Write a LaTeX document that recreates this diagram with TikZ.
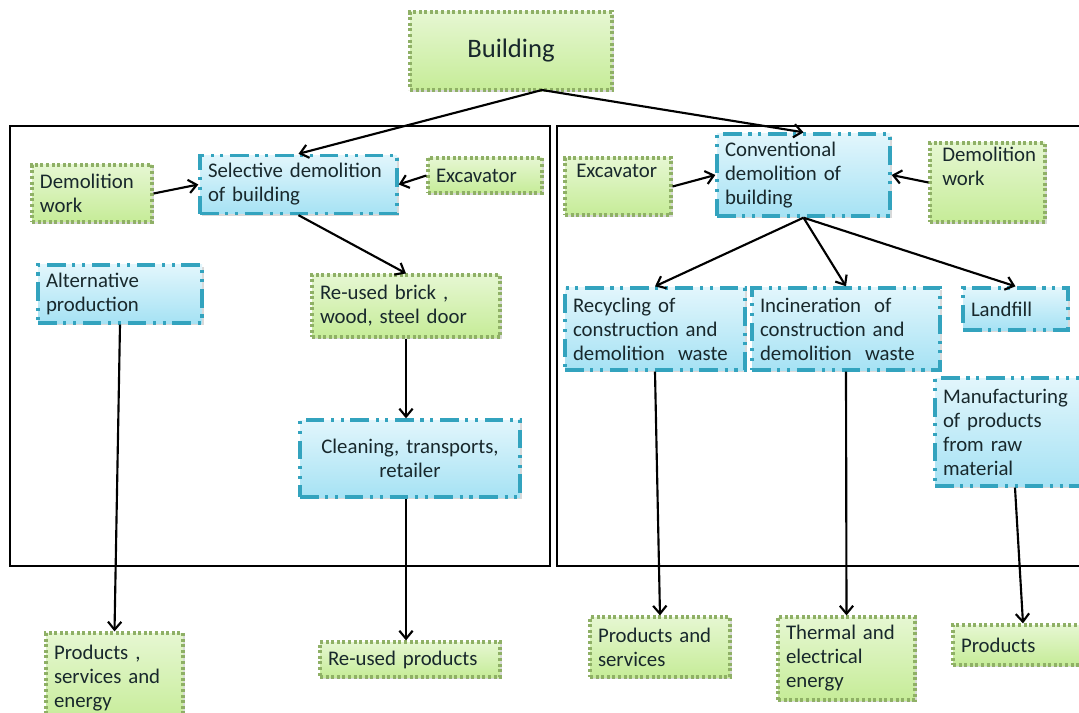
\documentclass[tikz,border=0pt]{standalone}
\usepackage{fontspec}
\setmainfont{Carlito}
\usetikzlibrary{arrows.meta,shadows}

\definecolor{gfillT}{HTML}{E6F7D2}
\definecolor{gfillB}{HTML}{C6EC98}
\definecolor{gline}{HTML}{8FB066}
\definecolor{bfillT}{HTML}{E2F6FC}
\definecolor{bfillB}{HTML}{A6E2F4}
\definecolor{bline}{HTML}{33A3BE}
\definecolor{txt}{HTML}{18282C}

\tikzset{
  x=0.75pt, y=-0.75pt,
  every node/.style={font=\fontsize{15.6}{18}\selectfont, text=txt},
  dims/.style 2 args={minimum width=#1*0.75pt, minimum height=#2*0.75pt,
                      text width=#1*0.75pt-12pt},
  shade/.style={drop shadow={shadow xshift=1.2pt, shadow yshift=-1.5pt,
                opacity=0.25, fill=black!60}},
  gbox/.style={rectangle, draw=gline, line width=2.4pt,
               dash pattern=on 2.2pt off 2pt,
               top color=gfillT, bottom color=gfillB, shade,
               inner sep=6pt, align=left},
  bbox/.style={rectangle, draw=bline, line width=2.5pt,
               dash pattern=on 14pt off 5pt on 2.3pt off 5pt on 2.3pt off 5pt,
               top color=bfillT, bottom color=bfillB, shade,
               inner sep=6pt, align=left},
  frame/.style={draw=black, line width=1.6pt},
  link/.style={draw=black, line width=1.6pt,
               -{Straight Barb[length=6pt, width=10pt, line width=1.6pt]}},
}

\begin{document}
\begin{tikzpicture}
\useasboundingbox (0,0) rectangle (1079,713);
\clip (0,0) rectangle (1079,713);

% the two working areas
\draw[frame] (10,126) rectangle (550,566);
\draw[frame] (557,126) rectangle (1090,566);

% top
\node[gbox, dims={202}{78}, align=center, font=\fontsize{20}{24}\selectfont] (bld) at (511,51) {Building};
\coordinate (split) at (542,90);

% left part: selective demolition
\node[gbox, dims={120}{57}] (dwL) at (92,193.5) {Demolition\\work};
\node[bbox, dims={197}{55}] (sel) at (298.5,184.5) {Selective demolition\\of building};
\node[gbox, dims={114}{35}] (excL) at (485,175.5) {Excavator};
\node[bbox, dims={164}{58}] (alt) at (120,294) {Alternative\\production};
\node[gbox, dims={188}{62}] (reb) at (406,306) {Re-used brick ,\\wood, steel door};
\node[bbox, dims={220}{77}, align=center] (cln) at (410,458.5) {Cleaning, transports,\\retailer};
\node[gbox, dims={137}{90}] (pse) at (114.5,678) {Products ,\\services and\\energy};
\node[gbox, dims={180}{35}] (rep) at (410,659.5) {Re-used products};

% right part: conventional demolition
\node[gbox, dims={106}{57}] (excR) at (618,186.5) {};
\node[anchor=north west, inner sep=0pt] (excRt) at (576,164) {Excavator};
\node[bbox, dims={173}{80}] (con) at (803.5,175) {Conventional\\demolition of\\building};
\node[gbox, dims={115}{79}] (dwR) at (987.5,182.5) {};
\node[anchor=north west, inner sep=0pt, align=left] (dwRt) at (942,147) {Demolition\\work};
\node[bbox, dims={180}{82}] (rec) at (655,329) {Recycling of\\construction and\\demolition\hspace{0.3em} waste};
\node[bbox, dims={188}{82}] (inc) at (846,329) {Incineration\hspace{0.3em} of\\construction and\\demolition\hspace{0.3em} waste};
\node[bbox, dims={105}{42}] (lnd) at (1015.5,309) {Landfill};
\node[bbox, dims={160}{108}] (man) at (1015,432) {Manufacturing\\of products\\from raw\\material};
\node[gbox, dims={140}{60}] (pas) at (660,647) {Products and\\services};
\node[gbox, dims={137}{83}] (the) at (846.5,658.5) {Thermal and\\electrical\\energy};
\node[gbox, dims={140}{40}] (prd) at (1023,645) {Products};

% connectors
\draw[link] (split) -- (sel.north);
\draw[link] (split) -- (con.north);
\draw[link] (dwL.east) -- (sel.west);
\draw[link] (excL.west) -- (sel.east);
\draw[link] (sel.south) -- (reb.north);
\draw[link] (reb.south) -- (cln.north -| reb.south);
\draw[link] (cln.south -| reb.south) -- (rep.north -| reb.south);
\draw[link] (alt.south) -- (pse.north);

\draw[link] (excR.east) -- (con.west);
\draw[link] (dwR.west) -- (con.east);
\draw[link] (con.south) -- (rec.north);
\draw[link] (con.south) -- (inc.north);
\draw[link] (con.south) -- (lnd.north);
\draw[link] (rec.south) -- (pas.north);
\draw[link] (inc.south) -- (the.north);
\draw[link] (man.south) -- (prd.north);
\end{tikzpicture}
\end{document}
